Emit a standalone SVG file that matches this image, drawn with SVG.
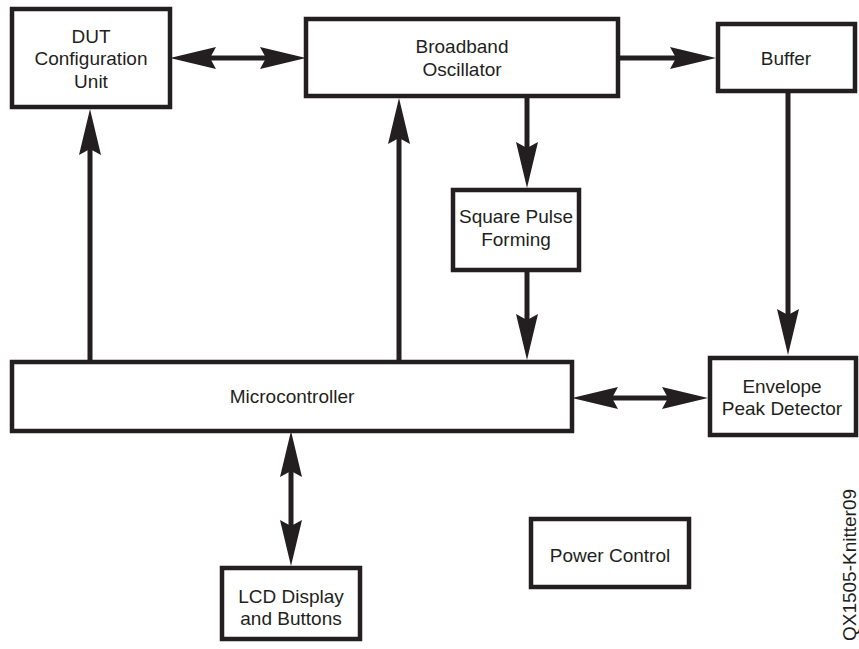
<svg xmlns="http://www.w3.org/2000/svg" width="859" height="649" viewBox="0 0 859 649">
<style>
.box{fill:#fff;stroke:#231f20;stroke-width:4.5}
.lbl{font-family:"Liberation Sans",Arial,sans-serif;font-size:19px;fill:#231f20;text-anchor:middle}
.wire{stroke:#231f20;stroke-width:5;fill:none}
</style>
<defs>
<marker id="ah" viewBox="0 0 46 22" refX="26" refY="11" markerWidth="46" markerHeight="22" markerUnits="userSpaceOnUse" orient="auto-start-reverse">
<path d="M0,0 L46,11 L0,22 L6,11 Z" fill="#231f20"/>
</marker>
</defs>
<rect width="859" height="649" fill="#fff"/>
<g id="connectors">
<line class="wire" x1="190" y1="58" x2="286" y2="58" marker-start="url(#ah)" marker-end="url(#ah)"/>
<line class="wire" x1="618" y1="58" x2="696" y2="58" marker-end="url(#ah)"/>
<line class="wire" x1="527" y1="96" x2="527" y2="168" marker-end="url(#ah)"/>
<line class="wire" x1="527" y1="270" x2="527" y2="340" marker-end="url(#ah)"/>
<line class="wire" x1="399" y1="362" x2="399" y2="118" marker-end="url(#ah)"/>
<line class="wire" x1="90" y1="362" x2="90" y2="129" marker-end="url(#ah)"/>
<line class="wire" x1="788" y1="91" x2="788" y2="335" marker-end="url(#ah)"/>
<line class="wire" x1="592" y1="398" x2="688" y2="398" marker-start="url(#ah)" marker-end="url(#ah)"/>
<line class="wire" x1="291" y1="451" x2="291" y2="546" marker-start="url(#ah)" marker-end="url(#ah)"/>
</g>
<g id="dut"><rect class="box" x="12" y="9" width="158" height="98"/>
<text class="lbl" x="91" y="43">DUT</text><text class="lbl" x="91" y="65">Configuration</text><text class="lbl" x="91" y="88">Unit</text></g>
<g id="oscillator"><rect class="box" x="306" y="19" width="312" height="77"/>
<text class="lbl" x="462" y="53">Broadband</text><text class="lbl" x="462" y="76">Oscillator</text></g>
<g id="buffer"><rect class="box" x="718" y="24" width="137" height="67"/>
<text class="lbl" x="786" y="65">Buffer</text></g>
<g id="square"><rect class="box" x="453" y="190" width="126" height="80"/>
<text class="lbl" x="516" y="223">Square Pulse</text><text class="lbl" x="516" y="246">Forming</text></g>
<g id="micro"><rect class="box" x="12" y="362" width="560" height="69"/>
<text class="lbl" x="292" y="403">Microcontroller</text></g>
<g id="envelope"><rect class="box" x="710" y="358" width="146" height="77"/>
<text class="lbl" x="782" y="393">Envelope</text><text class="lbl" x="782" y="415">Peak Detector</text></g>
<g id="lcd"><rect class="box" x="222" y="568" width="138" height="71"/>
<text class="lbl" x="291" y="603">LCD Display</text><text class="lbl" x="291" y="625">and Buttons</text></g>
<g id="power"><rect class="box" x="531" y="519" width="158" height="68"/>
<text class="lbl" x="610" y="562">Power Control</text></g>
<text class="lbl" transform="translate(856,565) rotate(-90)">QX1505-Knitter09</text>
</svg>
